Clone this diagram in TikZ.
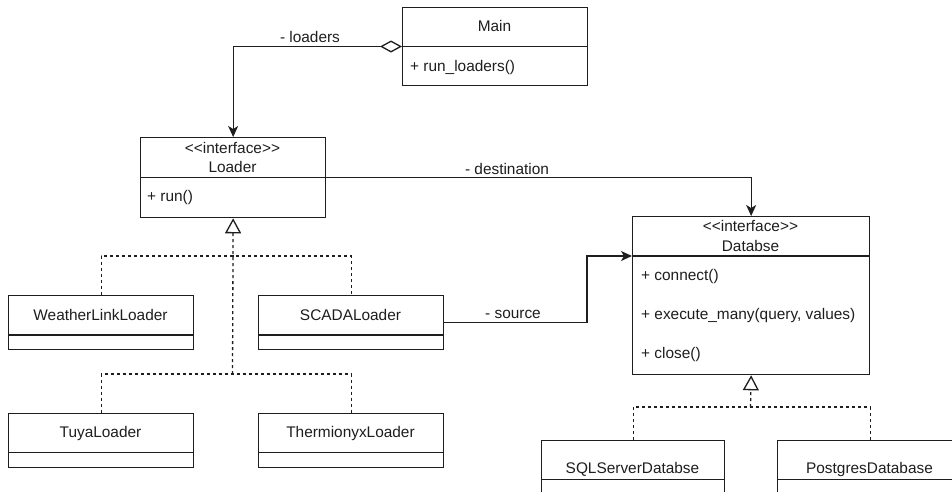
\documentclass[tikz,border=0pt]{standalone}
\usepackage{fontspec}
\newfontfamily\uml{Liberation Sans}
\usetikzlibrary{arrows.meta,calc}
\definecolor{ink}{HTML}{1E1E1E}
\tikzset{
  classbox/.style={draw=ink, line width=1.3pt, fill=white, inner sep=0pt,
                   anchor=north west, minimum width=185pt},
  txt/.style={font=\uml\fontsize{15.4}{18}\selectfont, inner sep=0pt,
              text height=11pt, text depth=3pt, text=ink},
  member/.style={txt, anchor=west},
  divider/.style={draw=ink, line width=1.3pt},
  assoc/.style={draw=ink, line width=1.3pt,
                -{Stealth[length=11pt, width=10pt, inset=3pt]}},
  aggr/.style={draw=ink, line width=1.3pt,
               {Diamond[open, length=22pt, width=12pt]}-{Stealth[length=11pt, width=10pt, inset=3pt]}},
  realize/.style={draw=ink, line width=1.3pt, dash pattern=on 3pt off 3pt},
  realizetip/.style={realize, -{Triangle[open, length=15pt, width=16pt, fill=white]}}
}
\begin{document}
\begin{tikzpicture}[x=1pt, y=-1pt]
\path[use as bounding box, clip] (0,0) rectangle (952,491);
\fill[white] (0,0) rectangle (952,491);

% ---- class Main ----
\node[classbox, minimum height=78pt] (main) at (402,7) {};
\draw[divider] ($(main.north west)+(0,39.5)$) -- ($(main.north east)+(0,39.5)$);
\node[txt] (mainname) at (494.5,27.5) {Main};
\node[member] (mainop) at (410,67.5) {+ run\_loaders()};

% ---- interface Loader ----
\node[classbox, minimum height=80pt] (loader) at (140,137) {};
\draw[divider] ($(loader.north west)+(0,40.5)$) -- ($(loader.north east)+(0,40.5)$);
\node[txt] (loaderst) at (232.5,149) {\textless\textless interface\textgreater\textgreater};
\node[txt] (loadername) at (232.5,168) {Loader};
\node[member] (loaderop) at (147,197.5) {+ run()};

% ---- loader implementations ----
\node[classbox, minimum height=53.5pt] (weather) at (8,295) {};
\draw[divider] ($(weather.north west)+(0,40)$) -- ($(weather.north east)+(0,40)$);
\node[txt] (weathername) at (100.5,316) {WeatherLinkLoader};

\node[classbox, minimum height=53.5pt] (scada) at (258,295) {};
\draw[divider] ($(scada.north west)+(0,40)$) -- ($(scada.north east)+(0,40)$);
\node[txt] (scadaname) at (350.5,316) {SCADALoader};

\node[classbox, minimum height=54pt] (tuya) at (8,412.5) {};
\draw[divider] ($(tuya.north west)+(0,40)$) -- ($(tuya.north east)+(0,40)$);
\node[txt] (tuyaname) at (100.5,433.5) {TuyaLoader};

\node[classbox, minimum height=54pt] (thermio) at (258,412.5) {};
\draw[divider] ($(thermio.north west)+(0,40)$) -- ($(thermio.north east)+(0,40)$);
\node[txt] (thermioname) at (350.5,433.5) {ThermionyxLoader};

% ---- interface Databse ----
\node[classbox, minimum width=237pt, minimum height=158pt] (db) at (632,216) {};
\draw[divider] ($(db.north west)+(0,40)$) -- ($(db.north east)+(0,40)$);
\node[txt] (dbst) at (750.5,227.5) {\textless\textless interface\textgreater\textgreater};
\node[txt] (dbname) at (750.5,247) {Databse};
\node[member] (dbop1) at (641,276.5) {+ connect()};
\node[member] (dbop2) at (641,315.5) {+ execute\_many(query, values)};
\node[member] (dbop3) at (641,354.5) {+ close()};

% ---- database implementations ----
\node[classbox, minimum width=183pt, minimum height=54pt] (sql) at (541,440) {};
\draw[divider] ($(sql.north west)+(0,39.5)$) -- ($(sql.north east)+(0,39.5)$);
\node[txt] (sqlname) at (632.5,469) {SQLServerDatabse};

\node[classbox, minimum width=185pt, minimum height=54pt] (pg) at (777,440) {};
\draw[divider] ($(pg.north west)+(0,39.5)$) -- ($(pg.north east)+(0,39.5)$);
\node[txt] (pgname) at (869.5,469) {PostgresDatabase};

% ---- associations ----
\draw[aggr] ($(main.north west)+(0,39.5)$) -| (loader.north);
\node[txt] (loaderslbl) at (310,38.5) {- loaders};

\draw[assoc] ($(loader.north east)+(0,40.5)$) -| (db.north);
\node[txt] (destlbl) at (507,170) {- destination};

\coordinate (dbin) at ($(db.north west)+(0,40)$);
\draw[assoc] (scada.east) -| ([xshift=-45pt]dbin) -- (dbin);
\node[txt] (srclbl) at (513,314) {- source};

% ---- realizations of Loader ----
\coordinate (upper) at (232.5,256);
\coordinate (lower) at (232.5,374);
\draw[realizetip] (lower) -- (loader.south);
\draw[realize] (weather.north) |- (upper) -| (scada.north);
\draw[realize] (tuya.north) |- (lower) -| (thermio.north);

% ---- realizations of Databse ----
\coordinate (dbjoin) at (750.5,407);
\draw[realizetip] (dbjoin) -- (db.south);
\draw[realize] (sql.north) |- (dbjoin) -| (pg.north);
\end{tikzpicture}
\end{document}
